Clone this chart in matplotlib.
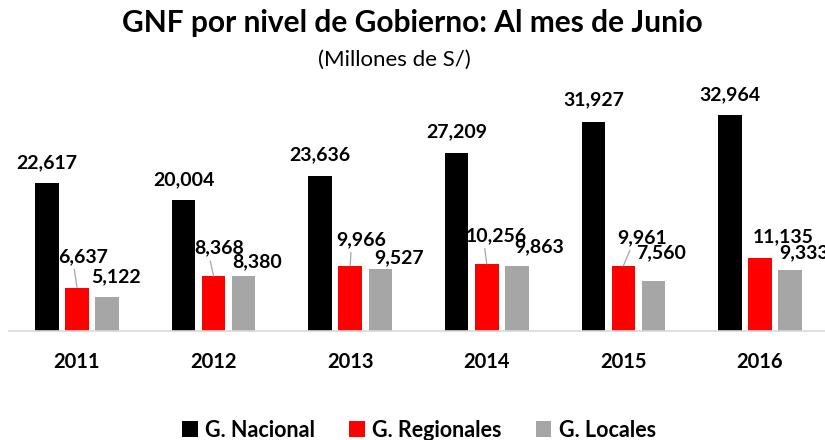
import matplotlib
matplotlib.use("Agg")
import matplotlib.pyplot as plt
import numpy as np
from matplotlib.patches import Patch

years = ["2011", "2012", "2013", "2014", "2015", "2016"]
nacional = [22617, 20004, 23636, 27209, 31927, 32964]
regionales = [6637, 8368, 9966, 10256, 9961, 11135]
locales = [5122, 8380, 9527, 9863, 7560, 9333]
series_names = ["G. Nacional", "G. Regionales", "G. Locales"]
colors = ["#000000", "#ff0000", "#a6a6a6"]

# label offsets in pixels (dx, dy up) relative to bar top centre
off_nac = [(0, 20), (0, 20), (0, 21), (0, 21), (0, 22), (0, 20)]
off_reg = [(6.5, 31), (5.5, 28), (11, 26), (9.5, 28), (18.5, 28), (23, 21)]
off_loc = [(8.5, 21), (13.5, 14), (19, 11), (22.5, 20), (7.5, 29), (14.5, 17)]
leader_reg = [True, True, True, True, True, False]

plt.rcParams['font.family'] = ['Lato', 'DejaVu Sans']

fig = plt.figure(figsize=(8.25, 4.4), dpi=100)
ax = fig.add_axes([8.7 / 825, 1 - 331 / 440, 819.6 / 825, 231 / 440])

x = np.arange(len(years))
w = 0.172
step = 0.22
all_series = [nacional, regionales, locales]
offs = [off_nac, off_reg, off_loc]
for k, (vals, col) in enumerate(zip(all_series, colors)):
    xs = x + (k - 1) * step
    ax.bar(xs, vals, width=w, color=col, zorder=2)
    for i, (xi, v) in enumerate(zip(xs, vals)):
        dx, dy = offs[k][i]
        kw = {}
        if k == 1 and leader_reg[i]:
            kw['arrowprops'] = dict(arrowstyle='-', color='#a6a6a6', lw=0.9,
                                    shrinkA=1, shrinkB=0, relpos=(0.3, 0.05))
        ax.annotate(f"{v:,}", xy=(xi, v), xytext=(dx, dy),
                    textcoords='offset pixels', ha='center', va='center',
                    fontsize=14, fontweight='bold', color='black',
                    annotation_clip=False, **kw)

ax.set_xlim(-0.5, len(years) - 0.5)
ax.set_ylim(0, 35267)
ax.set_xticks(x)
ax.set_xticklabels(years, fontsize=14.5, fontweight='bold')
ax.tick_params(axis='x', length=0, pad=15)
ax.set_yticks([])
for s in ['top', 'right', 'left']:
    ax.spines[s].set_visible(False)
ax.spines['bottom'].set_color('#d9d9d9')
ax.spines['bottom'].set_linewidth(1.2)

fig.text(0.5, 1 - 23 / 440, "GNF por nivel de Gobierno: Al mes de Junio",
         ha='center', va='center', fontsize=21.5, fontweight='bold')
fig.text(0.478, 1 - 60 / 440, "(Millones de S/)", ha='center', va='center',
         fontsize=16)

handles = [Patch(facecolor=c, edgecolor='none') for c in colors]
fig.legend(handles, series_names, loc='center', bbox_to_anchor=(0.508, 1 - 430 / 440),
           ncol=3, frameon=False, prop={'size': 15.5, 'weight': 'bold'},
           handlelength=0.7, handleheight=0.7, handletextpad=0.35,
           columnspacing=1.6)

fig.savefig("out.png", dpi=100)
